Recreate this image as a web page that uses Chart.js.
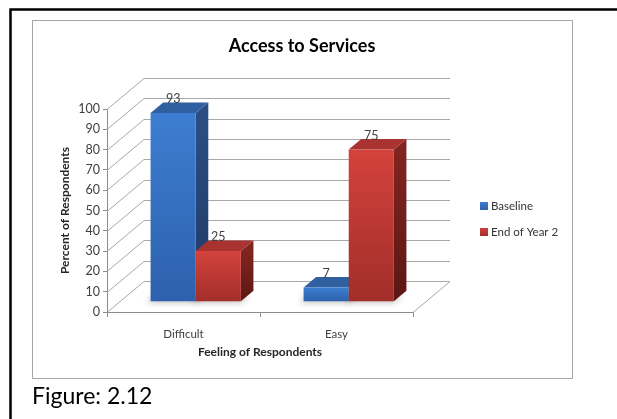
<!DOCTYPE html>
<html>
<head>
<meta charset="utf-8">
<title>Access to Services</title>
<script src="https://cdn.jsdelivr.net/npm/chart.js@4.4.1/dist/chart.umd.min.js"></script>
<style>
  html, body { margin: 0; padding: 0; background: #fff; }
  canvas { display: block; }
</style>
</head>
<body>
<canvas id="chart" width="617" height="419"></canvas>
<script>
// chart values
const categories = ["Difficult", "Easy"];
const seriesNames = ["Baseline", "End of Year 2"];
const baseline = [93, 7];
const endOfYear2 = [25, 75];
const yMin = 0, yMax = 100, yStep = 10;

const chartTitle = "Access to Services";
const xTitle = "Feeling of Respondents";
const yTitle = "Percent of Respondents";
const caption = "Figure: 2.12";

// 3D look: full depth of the floor, and where the columns sit inside it
const DEPTH_X = 37, DEPTH_Y = -31;
const BAR_FRONT = 0.33, BAR_DEPTH = 0.34;

const FONT = "Lato, 'Open Sans', sans-serif";
const GRID = "#a8a8a8";
const AXIS = "#8c8c8c";

const palette = [
  { frontTop: "#3d7dd1", frontBottom: "#2d61ad", sideTop: "#2a4e84", sideBottom: "#1e3a66", top: "#30609f" },
  { frontTop: "#d4423c", frontBottom: "#a22e2a", sideTop: "#82241f", sideBottom: "#5c1715", top: "#a93330" }
];

// page frame, heading, caption and legend
const framePlugin = {
  id: "frame",
  beforeDraw(chart) {
    const ctx = chart.ctx;
    ctx.save();
    ctx.fillStyle = "#fff";
    ctx.fillRect(0, 0, chart.width, chart.height);

    // table cell border (top and left only)
    ctx.strokeStyle = "#000";
    ctx.lineWidth = 2.5;
    ctx.beginPath();
    ctx.moveTo(10.5, 425);
    ctx.lineTo(10.5, 9.5);
    ctx.lineTo(620, 9.5);
    ctx.stroke();

    ctx.strokeStyle = "#a6a6a6";
    ctx.lineWidth = 1;
    ctx.strokeRect(32.5, 20.5, 540, 358);

    ctx.fillStyle = "#000";
    ctx.font = "bold 18px " + FONT;
    ctx.textAlign = "center";
    ctx.textBaseline = "middle";
    ctx.fillText(chartTitle, 302, 46);

    ctx.font = "23px " + FONT;
    ctx.textAlign = "left";
    ctx.textBaseline = "alphabetic";
    ctx.fillText(caption, 32, 404);

    chart.data.datasets.forEach((ds, i) => {
      const cy = 206 + i * 26;
      const c = palette[i];
      const g = ctx.createLinearGradient(0, cy - 4, 0, cy + 4);
      g.addColorStop(0, c.frontTop);
      g.addColorStop(1, c.frontBottom);
      ctx.fillStyle = g;
      ctx.fillRect(480, cy - 4, 8, 8);
      ctx.fillStyle = "#333";
      ctx.font = "11.5px " + FONT;
      ctx.textBaseline = "middle";
      ctx.fillText(ds.label, 491, cy + 0.5);
    });
    ctx.restore();
  }
};

// side wall, back wall gridlines and floor edge
const wallsPlugin = {
  id: "walls",
  beforeDatasetsDraw(chart) {
    const ctx = chart.ctx;
    const xs = chart.scales.x, ys = chart.scales.y;
    ctx.save();
    ctx.strokeStyle = GRID;
    ctx.lineWidth = 1;
    ys.ticks.forEach(t => {
      const py = Math.round(ys.getPixelForValue(t.value)) + 0.5;
      ctx.beginPath();
      ctx.moveTo(xs.left, py);
      ctx.lineTo(xs.left + DEPTH_X, py + DEPTH_Y);
      ctx.lineTo(xs.right + DEPTH_X, py + DEPTH_Y);
      ctx.stroke();
    });
    const y0 = Math.round(ys.getPixelForValue(0)) + 0.5;
    ctx.beginPath();
    ctx.moveTo(xs.right, y0);
    ctx.lineTo(xs.right + DEPTH_X, y0 + DEPTH_Y);
    ctx.stroke();
    ctx.restore();
  }
};

function drawColumn(ctx, left, right, top, bottom, c) {
  const dx = DEPTH_X * BAR_DEPTH, dy = DEPTH_Y * BAR_DEPTH;

  let g = ctx.createLinearGradient(0, top, 0, bottom);
  g.addColorStop(0, c.sideTop);
  g.addColorStop(1, c.sideBottom);
  ctx.fillStyle = g;
  ctx.beginPath();
  ctx.moveTo(right, top);
  ctx.lineTo(right + dx, top + dy);
  ctx.lineTo(right + dx, bottom + dy);
  ctx.lineTo(right, bottom);
  ctx.closePath();
  ctx.fill();

  ctx.fillStyle = c.top;
  ctx.beginPath();
  ctx.moveTo(left, top);
  ctx.lineTo(left + dx, top + dy);
  ctx.lineTo(right + dx, top + dy);
  ctx.lineTo(right, top);
  ctx.closePath();
  ctx.fill();

  g = ctx.createLinearGradient(0, top, 0, bottom);
  g.addColorStop(0, c.frontTop);
  g.addColorStop(1, c.frontBottom);
  ctx.fillStyle = g;
  ctx.fillRect(left, top, right - left, bottom - top);
}

// columns drawn as boxes from the bar elements' geometry
const columnsPlugin = {
  id: "columns",
  afterDatasetsDraw(chart) {
    const ctx = chart.ctx;
    const ox = DEPTH_X * BAR_FRONT, oy = DEPTH_Y * BAR_FRONT;
    const metas = chart.data.datasets.map((_, i) => chart.getDatasetMeta(i));
    ctx.save();

    // soft shadow on the floor
    ctx.filter = "blur(3px)";
    ctx.fillStyle = "rgba(0,0,0,0.28)";
    metas.forEach(meta => meta.data.forEach(el => {
      const l = el.x - el.width / 2 + ox, r = el.x + el.width / 2 + ox, b = el.base + oy;
      ctx.beginPath();
      ctx.moveTo(l - 4, b + 1);
      ctx.lineTo(r, b + 1);
      ctx.lineTo(r + 8, b - 6);
      ctx.lineTo(l + 4, b - 6);
      ctx.closePath();
      ctx.fill();
    }));
    ctx.filter = "none";

    categories.forEach((_, j) => {
      metas.forEach((meta, i) => {
        const el = meta.data[j];
        drawColumn(ctx, el.x - el.width / 2 + ox, el.x + el.width / 2 + ox,
          el.y + oy, el.base + oy, palette[i]);
      });
    });

    ctx.fillStyle = "#404040";
    ctx.font = "12.5px " + FONT;
    ctx.textAlign = "center";
    ctx.textBaseline = "middle";
    metas.forEach((meta, i) => meta.data.forEach((el, j) => {
      const v = chart.data.datasets[i].data[j];
      ctx.fillText(String(v), el.x + ox, el.y + oy - 14);
    }));
    ctx.restore();
  }
};

function draw() {
  new Chart(document.getElementById("chart"), {
    type: "bar",
    data: {
      labels: categories,
      datasets: [
        { label: seriesNames[0], data: baseline, backgroundColor: "rgba(0,0,0,0)" },
        { label: seriesNames[1], data: endOfYear2, backgroundColor: "rgba(0,0,0,0)" }
      ]
    },
    options: {
      responsive: false,
      animation: false,
      layout: { padding: { left: 55, top: 109, right: 204, bottom: 57 } },
      datasets: { bar: { categoryPercentage: 0.59, barPercentage: 1 } },
      plugins: { legend: { display: false }, tooltip: { enabled: false } },
      scales: {
        x: {
          grid: { drawOnChartArea: false, tickLength: 5, color: AXIS },
          border: { color: AXIS },
          ticks: { font: { family: FONT, size: 11.5 }, color: "#404040", padding: 10 },
          title: {
            display: true, text: xTitle, color: "#262626",
            font: { family: FONT, size: 12, weight: "bold" },
            padding: { top: 0, bottom: 3 }
          },
          afterFit(scale) { scale.height = 50; }
        },
        y: {
          min: yMin, max: yMax,
          grid: { drawOnChartArea: false, tickLength: 4, color: AXIS },
          border: { color: AXIS },
          ticks: { stepSize: yStep, font: { family: FONT, size: 12.5 }, color: "#404040", padding: 3 },
          title: {
            display: true, text: yTitle, color: "#262626",
            font: { family: FONT, size: 12, weight: "bold" },
            padding: { top: 3, bottom: 0 }
          },
          afterFit(scale) { scale.width = 52; }
        }
      }
    },
    plugins: [framePlugin, wallsPlugin, columnsPlugin]
  });
}

Promise.all([
  document.fonts.load("12px Lato"),
  document.fonts.load("bold 12px Lato")
]).then(draw, draw);
</script>
</body>
</html>
